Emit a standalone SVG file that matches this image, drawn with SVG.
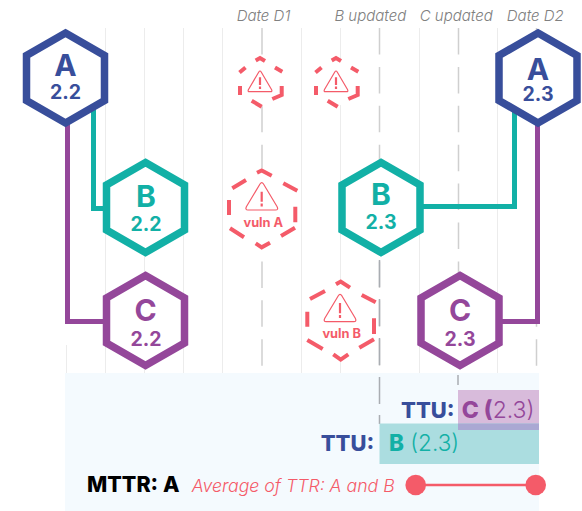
<svg xmlns="http://www.w3.org/2000/svg" width="582" height="511" viewBox="0 0 582 511">
<style>
text{font-family:"Inter","Liberation Sans",sans-serif;text-anchor:middle}
.grid{stroke:#ececec;stroke-width:1;fill:none}
.date{stroke:#cfcfcf;stroke-width:1.5;stroke-dasharray:26.5 12.4;fill:none}
.dark{stroke:#a9adb2;stroke-width:1.5;fill:none}
.hex{fill:#fff;stroke-width:7.5;stroke-linejoin:miter}
.conn{fill:none;stroke-width:5}
.navy{stroke:#384e9b}.teal{stroke:#12b0a6}.purple{stroke:#94479a}
.tnavy{fill:#384e9b}.tteal{fill:#12b0a6}.tpurple{fill:#94479a}
.big{font-size:30px;font-weight:700}
.ver{font-size:19.500px;font-weight:700}
.hdr{font-size:15px;font-style:italic;fill:#808080;font-weight:300}
.vhex{fill:#fff;stroke:none}
.vd{fill:none;stroke:#f45b69;stroke-width:4}
.tri{fill:none;stroke:#f45b69;stroke-width:1.200;stroke-linejoin:round}
.bang{fill:none;stroke:#f45b69;stroke-width:2.200}
.vl{font-size:12.800px;font-weight:700;fill:#f45b69}
.ttu{font-size:22px;font-weight:800}
.st{text-anchor:start}
</style>
<rect x="65" y="373" width="474" height="138" fill="#f4fafe"/>
<g id="grid">
<path class="grid" d="M66.500 345V373M105.500 28V373M144.500 28V373M183.500 28V373M222.500 28V373M301.500 28V373M340.500 28V373M419.500 28V373M497.500 28V373"/>
<path class="date" d="M262 28V366M379.500 28V366M458.500 28V366M536.500 28V366"/>
<path class="dark" d="M379.500 260V287M379.500 299V326M379.500 338V365M379.500 377V404M379.500 415V424M458 375V385"/>
</g>
<rect x="458" y="390" width="81" height="40" fill="#d8bbdb"/>
<rect x="379.500" y="423.500" width="159.500" height="40.500" fill="#abdde0"/>
<rect x="458" y="423.500" width="81" height="6.500" fill="#aaa8d3"/>
<g id="connectors">
<path class="conn teal" d="M93.500 108V208.500H106"/>
<path class="conn purple" d="M67.500 122V321.500H106"/>
<path class="conn teal" d="M420 206.500H514.500V110"/>
<path class="conn purple" d="M500 321.500H537.500V122"/>
</g>
<g id="node-a22"><polygon class="hex navy" points="65.500,33 104.500,55.500 104.500,100.500 65.500,123 26.500,100.500 26.500,55.500"/><text class="big tnavy" x="65.500" y="76">A</text><text class="ver tnavy" x="65.500" y="99">2.2</text></g>
<g id="node-a23"><polygon class="hex navy" points="538,33 577,55.500 577,100.500 538,123 499,100.500 499,55.500"/><text class="big tnavy" x="538" y="80">A</text><text class="ver tnavy" x="538" y="100.700">2.3</text></g>
<g id="node-b22"><polygon class="hex teal" points="145.500,162.500 184.500,185 184.500,230 145.500,252.500 106.500,230 106.500,185"/><text class="big tteal" x="146" y="206.700">B</text><text class="ver tteal" x="146" y="230.700">2.2</text></g>
<g id="node-b23"><polygon class="hex teal" points="381,162.500 420,185 420,230 381,252.500 342,230 342,185"/><text class="big tteal" x="381" y="204.500">B</text><text class="ver tteal" x="381" y="229.300">2.3</text></g>
<g id="node-c22"><polygon class="hex purple" points="145.500,275.500 184.500,298 184.500,343 145.500,365.500 106.500,343 106.500,298"/><text class="big tpurple" x="145.500" y="320.700">C</text><text class="ver tpurple" x="146" y="345.700">2.2</text></g>
<g id="node-c23"><polygon class="hex purple" points="460,275.500 499,298 499,343 460,365.500 421,343 421,298"/><text class="big tpurple" x="460" y="320.700">C</text><text class="ver tpurple" x="460" y="345.700">2.3</text></g>
<g id="vuln-small-1"><polygon class="vhex" points="261,57 283,69 283,95 261,107 239,95 239,69"/>
<path class="vd" d="M255.700 60.500L260 58L265 61M239.500 72.500L245.500 67.500M275 67.500L282.300 71.700M240 86V95M281.700 86V95L272.300 99M251.700 100.700L261.700 106.700"/>
<path class="tri" d="M258.800 72Q260 70 261.200 72L271.500 89.500Q272.600 91.700 270.500 91.700H249.500Q247.400 91.700 248.500 89.500Z"/><path class="bang" d="M260 77.300V85M260 86.500V89"/></g>
<g id="vuln-small-2"><polygon class="vhex" points="337,57 359,69 359,95 337,107 315,95 315,69"/>
<path class="vd" d="M331.700 60.500L336 58L341 61M315.500 72.500L321.500 67.500M351 67.500L358.300 71.700M316 86V95M357.700 86V95L348.300 99M327.700 100.700L337.700 106.700"/>
<path class="tri" d="M334.800 72Q336 70 337.200 72L347.500 89.500Q348.600 91.700 346.500 91.700H325.500Q323.400 91.700 324.500 89.500Z"/><path class="bang" d="M336 77.300V85M336 86.500V89"/></g>
<g id="vuln-a"><polygon class="vhex" points="262,168 298,188 298,229 262,249 226,229 226,188"/>
<path class="vd" d="M257 172.700L261.700 170.500L271.700 175.700M232.300 188.300L246 180M283.300 183.300L297.300 190.700M229 200V215M295.300 206.700V222.300M230 228.300L244 237.300M281 236L295 227.700M255.700 243.300L261.700 247.300L270 242.700"/>
<path class="tri" d="M260 184Q261.800 181.300 263.500 184L277 206.500Q278.800 210 275.500 210H248Q244.800 210 246.500 206.500Z"/><path class="bang" d="M261.700 191.700V201.700M261.700 203.500V206.500"/><text class="vl" x="263.300" y="226.700">vuln A</text></g>
<g id="vuln-b"><polygon class="vhex" points="341,279 377,299 377,342 341,362 305,342 305,299"/>
<path class="vd" d="M336 284.300L340.700 281.500L350 287.700M310 299L325 291M361.700 295L375.700 302.300M307.300 311.700V326.700M374 318.300V334M307.300 340L322.700 349M359.300 347.700L374 339.300M333.300 354.300L340.700 359.600L348.300 354.300"/>
<path class="tri" d="M338.300 295.700Q340 293 341.800 295.700L355.300 318.200Q357 321.700 353.800 321.700H326.300Q323 321.700 324.800 318.200Z"/><path class="bang" d="M340 303V313.300M340 315V318"/><text class="vl" x="341.700" y="338.300">vuln B</text></g>
<g id="headers">
<text class="hdr" x="263.500" y="21">Date D1</text><text class="hdr" x="370.300" y="21">B updated</text><text class="hdr" x="456.200" y="21">C updated</text><text class="hdr" x="535.300" y="21">Date D2</text>
</g>
<g id="legend">
<text class="ttu tnavy st" x="401" y="417.700">TTU:</text>
<text class="st" x="461.700" y="417.700" style="font-size:23px"><tspan class="tpurple" font-weight="800">C (</tspan><tspan class="tpurple" font-weight="300">2.3)</tspan></text>
<text class="ttu tnavy st" x="320.700" y="451">TTU:</text>
<text class="st" x="389" y="451" style="font-size:22.500px"><tspan class="tteal" font-weight="800">B</tspan><tspan class="tteal" font-weight="300"> (2.3)</tspan></text>
<text class="st" x="87" y="491.700" style="font-size:21.500px;font-weight:800;fill:#000">MTTR: A</text>
<text class="st" x="191.700" y="491.700" style="font-size:17.700px;font-style:italic;font-weight:300;fill:#f45b69">Average of TTR: A and B</text>
<path d="M416 485H535" stroke="#f45b69" stroke-width="2.500"/>
<circle cx="415.700" cy="485" r="10.300" fill="#f45b69"/><circle cx="535.700" cy="485" r="10.300" fill="#f45b69"/>
</g>
</svg>
